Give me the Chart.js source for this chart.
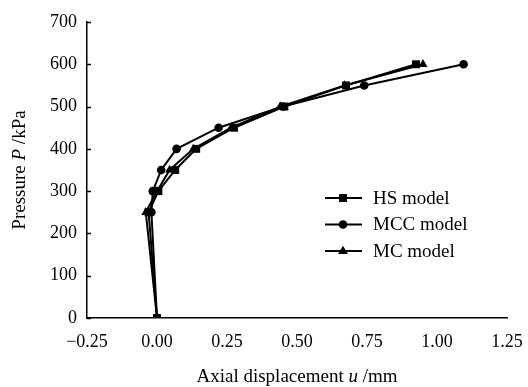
<!DOCTYPE html>
<html>
<head>
<meta charset="utf-8">
<script src="https://cdn.jsdelivr.net/npm/chart.js@4/dist/chart.umd.min.js"></script>
<style>
  html, body { margin: 0; padding: 0; background: #fff; }
  #wrap { width: 528px; height: 387px; }
</style>
</head>
<body>
<div id="wrap"><canvas id="chart"></canvas></div>
<script>
// pressure steps (kPa) shared by all three models
const pressure = [0, 250, 300, 350, 400, 450, 500, 550, 600];
// axial displacement u (mm)
const hsDisp = [0, -0.03, 0.005, 0.065, 0.14, 0.275, 0.455, 0.675, 0.925];
const mccDisp = [0, -0.02, -0.015, 0.015, 0.07, 0.22, 0.45, 0.74, 1.095];
const mcDisp = [0, -0.04, 0.0, 0.045, 0.13, 0.265, 0.44, 0.67, 0.95];
const seriesNames = ['HS model', 'MCC model', 'MC model'];
const xTicks = [-0.25, 0, 0.25, 0.5, 0.75, 1.0, 1.25];
const yTicks = [0, 100, 200, 300, 400, 500, 600, 700];

const FONT = '"Liberation Serif", "Times New Roman", serif';

function pts(xs) {
  return xs.map((u, i) => ({ x: u, y: pressure[i] }));
}

const styles = [
  { pointStyle: 'rect', pointRadius: 5.6 },
  { pointStyle: 'circle', pointRadius: 4.3 },
  { pointStyle: 'triangle', pointRadius: 5.2 },
];

function drawMarker(ctx, style, x, y, r) {
  ctx.beginPath();
  if (style === 'rect') {
    const s = r * Math.SQRT1_2;
    ctx.rect(x - s, y - s, 2 * s, 2 * s);
  } else if (style === 'circle') {
    ctx.arc(x, y, r, 0, Math.PI * 2);
  } else {
    ctx.moveTo(x, y - r);
    ctx.lineTo(x + r * 0.95, y + r * 0.6);
    ctx.lineTo(x - r * 0.95, y + r * 0.6);
    ctx.closePath();
  }
  ctx.fill();
}

// legend, axis titles with italic symbols, inward y ticks
const extras = {
  id: 'extras',
  afterDraw(chart) {
    const ctx = chart.ctx;
    const ys = chart.scales.y;
    const xs = chart.scales.x;
    ctx.save();
    ctx.fillStyle = '#000';
    ctx.strokeStyle = '#000';

    // y ticks pointing into the plot
    ctx.lineWidth = 1.5;
    yTicks.forEach(v => {
      const py = Math.round(ys.getPixelForValue(v)) + 0.5;
      ctx.beginPath();
      ctx.moveTo(xs.left, py);
      ctx.lineTo(xs.left + 4, py);
      ctx.stroke();
    });

    // legend
    const legY = [198, 224.5, 251];
    seriesNames.forEach((name, i) => {
      const y = legY[i];
      ctx.lineWidth = 2;
      ctx.beginPath();
      ctx.moveTo(325, y);
      ctx.lineTo(362, y);
      ctx.stroke();
      drawMarker(ctx, styles[i].pointStyle, 343, y, styles[i].pointRadius);
      ctx.font = '19px ' + FONT;
      ctx.textBaseline = 'middle';
      ctx.textAlign = 'left';
      ctx.fillText(name, 373, y + 1);
    });

    // axis titles
    function mixed(parts, cx, cy, rotate) {
      ctx.save();
      ctx.translate(cx, cy);
      if (rotate) ctx.rotate(-Math.PI / 2);
      ctx.textBaseline = 'alphabetic';
      ctx.textAlign = 'left';
      let total = 0;
      parts.forEach(p => {
        ctx.font = (p[1] ? 'italic ' : '') + '19px ' + FONT;
        total += ctx.measureText(p[0]).width;
      });
      let x = -total / 2;
      parts.forEach(p => {
        ctx.font = (p[1] ? 'italic ' : '') + '19px ' + FONT;
        ctx.fillText(p[0], x, 0);
        x += ctx.measureText(p[0]).width;
      });
      ctx.restore();
    }
    mixed([['Axial displacement ', false], ['u', true], [' /mm', false]],
      (xs.left + xs.right) / 2, 382, false);
    mixed([['Pressure ', false], ['P', true], [' /kPa', false]],
      25, (ys.top + ys.bottom) / 2, true);
    ctx.restore();
  }
};

const datasets = [hsDisp, mccDisp, mcDisp].map((d, i) => ({
  label: seriesNames[i],
  data: pts(d),
  showLine: true,
  borderColor: '#000',
  backgroundColor: '#000',
  borderWidth: 2,
  pointStyle: styles[i].pointStyle,
  pointRadius: styles[i].pointRadius,
  pointBackgroundColor: '#000',
  pointBorderColor: '#000',
  pointBorderWidth: 0,
  tension: 0,
}));

new Chart(document.getElementById('chart'), {
  type: 'scatter',
  data: { datasets: datasets },
  options: {
    responsive: true,
    maintainAspectRatio: false,
    animation: false,
    layout: { padding: { left: 0, top: 22, right: 21, bottom: 0 } },
    scales: {
      x: {
        type: 'linear',
        min: -0.25,
        max: 1.25,
        afterFit(s) {
          s.height = 69;
          s.paddingLeft = 0;
          s.paddingRight = 0;
        },
        afterBuildTicks(s) { s.ticks = xTicks.map(v => ({ value: v })); },
        grid: { display: false, drawTicks: false },
        border: { display: true, color: '#000', width: 1.5 },
        ticks: {
          color: '#000',
          padding: 13,
          maxRotation: 0,
          font: { family: FONT, size: 18 },
          callback: v => (v < 0 ? '\u2212' : '') + Math.abs(v).toFixed(2),
        },
      },
      y: {
        type: 'linear',
        min: 0,
        max: 700,
        afterFit(s) {
          s.width = 87;
          s.paddingTop = 0;
          s.paddingBottom = 0;
        },
        afterBuildTicks(s) { s.ticks = yTicks.map(v => ({ value: v })); },
        grid: { display: false, drawTicks: false },
        border: { display: true, color: '#000', width: 1.5 },
        ticks: {
          color: '#000',
          padding: 10,
          font: { family: FONT, size: 18 },
        },
      },
    },
    plugins: {
      legend: { display: false },
      tooltip: { enabled: false },
    },
  },
  plugins: [extras],
});
</script>
</body>
</html>
